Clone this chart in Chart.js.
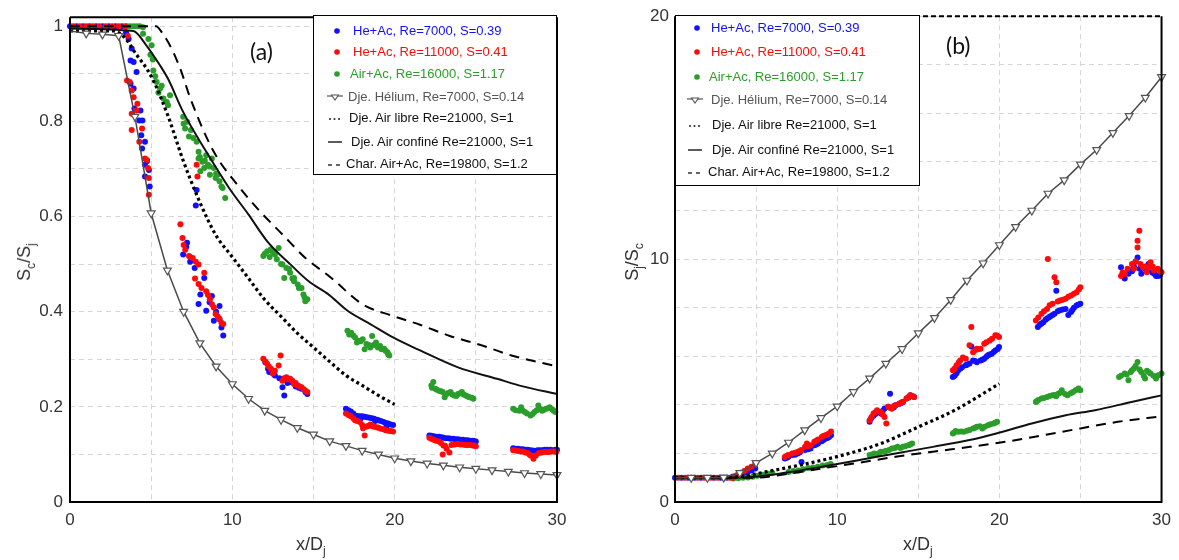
<!DOCTYPE html>
<html lang="fr">
<head>
<meta charset="UTF-8" />
<title>Sc/Sj et Sj/Sc en fonction de x/Dj</title>
<script src="https://cdn.jsdelivr.net/npm/chart.js"></script>
<style>
  body { margin: 0; background: #fff; font-family: 'Liberation Sans', Arial, sans-serif; }
  #wrap { position: relative; width: 1179px; height: 560px; overflow: hidden; }
  canvas { position: absolute; top: 0; }
  #chartA { left: 0; }
  #chartB { left: 600px; }
  .legend { position: absolute; border: 1.5px solid #000; background: #fff; box-sizing: border-box; }
  .legend .row { position: absolute; left: 0; height: 16px; width: 100%; }
  .legend svg { position: absolute; top: 0; }
  .legend span { position: absolute; top: 0; font-size: 13px; line-height: 16px; white-space: nowrap; }
  .tag { position: absolute; font-family: Lato, 'Open Sans', sans-serif; font-size: 23px; line-height: 23px; color: #111; }
  .axt { position: absolute; font-size: 18px; line-height: 20px; color: #333; white-space: nowrap; }
  .axt sub { font-size: 12px; vertical-align: -5px; line-height: 0; }
  .rot { transform: translate(-50%, -50%) rotate(-90deg); }
</style>
</head>
<body>
<div id="wrap">
  <canvas id="chartA" width="600" height="560"></canvas>
  <canvas id="chartB" width="579" height="560"></canvas>

  <div class="tag" style="left:250px; top:40px;">(a)</div>
  <div class="tag" style="left:946px; top:34px;">(b)</div>

  <div class="axt" style="left:296px; top:534px;">x/D<sub>j</sub></div>
  <div class="axt" style="left:903px; top:534px;">x/D<sub>j</sub></div>
  <div class="axt rot" style="left:24px; top:262px;">S<sub>c</sub>/S<sub>j</sub></div>
  <div class="axt rot" style="left:632px; top:262px;">S<sub>j</sub>/S<sub>c</sub></div>

  <div class="legend" id="legA" style="left:313px; top:15px; width:244px; height:160px;"></div>
  <div class="legend" id="legB" style="left:675px; top:15px; width:245px; height:171px;"></div>
</div>

<script>
  // ---- axes ----
  const xGrid = [0, 5, 10, 15, 20, 25, 30];
  const xLabels = [0, 10, 20, 30];
  const yGridA = [0, 0.1, 0.2, 0.3, 0.4, 0.5, 0.6, 0.7, 0.8, 0.9, 1];
  const yLabelsA = [0, 0.2, 0.4, 0.6, 0.8, 1];
  const yGridB = [0, 2, 4, 6, 8, 10, 12, 14, 16, 18, 20];
  const yLabelsB = [0, 10, 20];

  // ---- Dje. Hélium (courbe avec triangles) ----
  const xHel = [0, 1, 2, 3, 4, 5, 6, 7, 8, 9, 10, 11, 12, 13, 14, 15, 16, 17, 18, 19, 20,
    21, 22, 23, 24, 25, 26, 27, 28, 29, 30];
  const helA = [0.99, 0.985, 0.983, 0.98, 0.81, 0.607, 0.487, 0.40, 0.334, 0.285, 0.248,
    0.217, 0.192, 0.173, 0.156, 0.142, 0.128, 0.118, 0.108, 0.100, 0.092,
    0.086, 0.081, 0.077, 0.073, 0.070, 0.067, 0.064, 0.061, 0.059, 0.057];
  const helB = [1.0, 1.0, 1.0, 1.01, 1.2, 1.61, 2.0, 2.45, 2.96, 3.46, 3.94,
    4.53, 5.09, 5.7, 6.3, 6.95, 7.58, 8.32, 9.12, 9.83, 10.58,
    11.33, 12.0, 12.7, 13.25, 13.9, 14.5, 15.2, 15.9, 16.65, 17.5];

  // ---- Dje. Air libre (pointillés) ----
  const libreA = [[0, 0.99], [2.7, 0.99], [3.4, 0.975], [4, 0.945], [5, 0.895], [6, 0.815],
    [7, 0.715], [8, 0.63], [9, 0.56], [10, 0.515], [11, 0.47], [12, 0.425], [13, 0.39],
    [14, 0.355], [15, 0.325], [16, 0.295], [17, 0.266], [18, 0.245], [19, 0.224], [20, 0.205]];
  const libreB = [[0, 1.0], [3, 1.0], [4.5, 1.1], [5.6, 1.24], [7.7, 1.52], [10, 1.87],
    [12.7, 2.41], [15, 3.09], [17.25, 3.78], [20, 4.87]];

  // ---- Dje. Air confiné (trait plein) ----
  const confA = [[0, 0.995], [3.9, 0.99], [4.7, 0.96], [5.5, 0.92], [6.03, 0.89], [6.97, 0.82],
    [8.4, 0.736], [9.8, 0.66], [11, 0.604], [12.15, 0.548], [13.56, 0.5], [14.7, 0.464],
    [15.9, 0.437], [17.1, 0.402], [18.5, 0.374], [19.9, 0.346], [21.6, 0.318], [23.9, 0.283],
    [26.3, 0.259], [27.9, 0.243], [30, 0.227]];
  const confB = [[0, 1.0], [3.3, 1.0], [4.93, 1.04], [6.77, 1.2], [9.05, 1.45], [11.3, 1.72],
    [13.6, 2.0], [15.9, 2.27], [18.16, 2.55], [19.96, 2.85], [22, 3.23], [24.1, 3.57],
    [25.9, 3.78], [28.15, 4.12], [30, 4.39]];

  // ---- Char. Air+Ac (tirets) ----
  const charA = [[0, 1.0], [5.3, 1.0], [5.7, 0.985], [6.3, 0.95], [6.8, 0.91], [7.45, 0.845],
    [8.86, 0.736], [10.3, 0.667], [11.7, 0.611], [13.1, 0.562], [14.5, 0.513], [16.1, 0.471],
    [18, 0.416], [19.9, 0.391], [21.6, 0.372], [23.4, 0.349], [25.3, 0.33], [27.2, 0.308],
    [30, 0.285]];
  const charB = [[0, 1.0], [4.93, 1.0], [6.77, 1.14], [9.05, 1.38], [11.3, 1.61], [13.6, 1.86],
    [15.9, 2.07], [18.2, 2.27], [20.4, 2.48], [22.7, 2.75], [25, 3.03], [27.3, 3.3], [30, 3.53]];

  // ---- He+Ac, Re=7000 (bleu) ----
  const blueA = [[0, 1], [0.4, 1], [0.8, 1], [1.2, 1], [1.6, 1], [2, 1], [2.4, 1], [2.8, 1], [3.2, 1],
    [3.45, 0.987], [3.61, 0.973], [3.8, 0.953], [3.73, 0.928], [3.92, 0.925], [4.1, 0.904],
    [3.73, 0.879], [3.92, 0.869], [3.97, 0.827], [4.34, 0.823], [4.27, 0.802], [4.46, 0.802],
    [4.39, 0.771], [4.62, 0.757], [4.44, 0.743], [4.74, 0.716], [4.62, 0.709], [4.86, 0.698],
    [4.62, 0.684], [4.91, 0.663], [7.8, 0.656], [7.75, 0.623],
    [7.21, 0.545], [7.16, 0.536], [6.97, 0.52], [7.4, 0.505], [7.68, 0.492], [8.27, 0.471],
    [8.03, 0.436], [7.92, 0.416], [8.74, 0.433], [8.39, 0.402], [8.6, 0.42], [9.0, 0.4],
    [9.21, 0.412], [8.86, 0.381], [9.21, 0.384], [9.33, 0.367], [9.44, 0.35],
    [12.03, 0.294], [12.2, 0.28], [12.27, 0.273], [12.5, 0.27], [12.62, 0.266], [12.9, 0.26],
    [13.09, 0.241], [13.2, 0.224], [13.4, 0.25], [13.56, 0.252], [13.91, 0.243], [14.1, 0.24],
    [14.26, 0.238], [14.5, 0.231], [14.62, 0.227],
    [17.0, 0.196], [17.15, 0.193], [17.2, 0.188], [17.3, 0.19], [17.45, 0.186], [17.56, 0.182],
    [17.7, 0.181], [17.85, 0.18], [17.9, 0.175], [18.0, 0.18], [18.15, 0.179], [18.3, 0.178],
    [18.45, 0.177], [18.6, 0.176], [18.73, 0.175], [18.8, 0.17], [18.9, 0.173], [19.0, 0.172],
    [19.15, 0.17], [19.32, 0.168], [19.45, 0.166], [19.5, 0.16], [19.6, 0.165], [19.75, 0.163],
    [19.9, 0.162],
    [22.14, 0.14], [22.25, 0.139], [22.4, 0.138], [22.55, 0.137], [22.73, 0.137], [22.9, 0.136],
    [23.0, 0.135], [23.15, 0.134], [23.32, 0.134], [23.45, 0.133], [23.6, 0.133], [23.75, 0.132],
    [23.9, 0.132], [24.05, 0.131], [24.2, 0.131], [24.35, 0.13], [24.5, 0.13], [24.65, 0.129],
    [24.8, 0.129], [24.9, 0.128], [25.0, 0.127],
    [27.3, 0.113], [27.45, 0.112], [27.6, 0.112], [27.75, 0.111], [27.9, 0.111], [28.05, 0.11],
    [28.2, 0.11], [28.35, 0.109], [28.5, 0.108], [28.65, 0.107], [28.8, 0.109], [28.95, 0.109],
    [29.1, 0.109], [29.25, 0.11], [29.4, 0.11], [29.6, 0.11], [29.8, 0.109], [29.9, 0.11],
    [30.0, 0.11]];
  const blueB = [[0, 1], [0.4, 1], [0.8, 1], [1.2, 1], [1.6, 1], [2, 1], [2.4, 1], [2.8, 1], [3.2, 1],
    [3.58, 1.05], [4.04, 1.11], [4.3, 1.2], [4.49, 1.25], [4.72, 1.3], [4.95, 1.38],
    [6.77, 1.79], [6.9, 1.82], [6.99, 1.86], [7.22, 1.93], [7.4, 1.95], [7.57, 2.0], [7.7, 2.05],
    [7.8, 1.65], [8.02, 2.14], [8.2, 2.17], [8.36, 2.2], [8.59, 2.34], [8.7, 2.37], [8.82, 2.41],
    [9.05, 2.5], [9.15, 2.55], [9.27, 2.6], [9.4, 2.63], [9.5, 2.68], [9.62, 2.75],
    [12.0, 3.3], [12.1, 3.45], [12.24, 3.55], [12.35, 3.62], [12.46, 3.7], [12.69, 3.64],
    [12.8, 3.75], [12.92, 3.85], [13.15, 3.92], [13.26, 4.46], [13.37, 3.85], [13.5, 3.9],
    [13.6, 3.98], [13.83, 4.05], [13.95, 4.08], [14.05, 4.12], [14.28, 4.26], [14.4, 4.3],
    [14.51, 4.39], [14.74, 4.32],
    [17.13, 5.15], [17.25, 5.2], [17.36, 5.3], [17.47, 5.42], [17.6, 5.5], [17.7, 5.55],
    [17.93, 5.63], [18.0, 5.65], [18.16, 5.7], [18.27, 6.4], [18.38, 5.83], [18.5, 5.8],
    [18.61, 5.75], [18.84, 5.83], [18.95, 5.86], [19.07, 5.9], [19.2, 5.98], [19.3, 6.04],
    [19.4, 6.07], [19.53, 6.1], [19.65, 6.18], [19.75, 6.24], [19.9, 6.3], [19.98, 6.38],
    [22.37, 7.2], [22.5, 7.3], [22.6, 7.35], [22.71, 7.4], [22.85, 7.5], [22.94, 7.55],
    [23.06, 7.61], [23.15, 7.65], [23.28, 7.7], [23.4, 7.75], [23.51, 8.7], [23.6, 7.85],
    [23.74, 7.89], [23.9, 7.92], [24.08, 7.95], [24.25, 7.7], [24.42, 7.82], [24.5, 7.9],
    [24.6, 8.0], [24.76, 8.09], [24.85, 8.12], [24.99, 8.16],
    [27.5, 9.66], [27.6, 9.4], [27.73, 9.2], [27.96, 9.4], [28.0, 9.55], [28.18, 9.5],
    [28.3, 9.7], [28.4, 9.9], [28.52, 10.07], [28.65, 9.6], [28.75, 9.4], [28.98, 9.6],
    [29.1, 9.5], [29.2, 9.8], [29.43, 9.45], [29.55, 9.4], [29.66, 9.3], [29.8, 9.3],
    [29.9, 9.35]];

  // ---- He+Ac, Re=11000 (rouge) ----
  const redA = [[0.2, 1], [0.6, 1], [1, 1], [1.4, 1], [1.8, 1], [2.2, 1], [2.6, 1], [3, 1], [3.4, 1],
    [3.56, 0.98], [3.68, 0.883], [3.51, 0.886], [3.8, 0.865], [3.92, 0.851], [4.15, 0.837],
    [4.1, 0.823], [3.8, 0.816], [3.8, 0.782], [4.44, 0.785], [4.27, 0.757], [4.62, 0.722],
    [4.74, 0.719], [4.81, 0.702], [4.86, 0.681], [4.86, 0.646], [7.8, 0.709], [7.85, 0.684],
    [6.8, 0.584], [6.93, 0.555], [7.0, 0.54], [7.1, 0.53], [7.33, 0.517], [7.4, 0.515],
    [7.56, 0.513], [7.75, 0.505], [7.92, 0.499], [8.27, 0.482], [7.7, 0.47], [7.92, 0.458],
    [8.1, 0.45], [8.39, 0.443], [8.5, 0.435], [8.62, 0.426], [8.75, 0.415], [8.86, 0.409],
    [8.97, 0.395], [9.1, 0.39], [9.2, 0.385], [9.33, 0.377], [9.44, 0.374],
    [11.91, 0.301], [12.05, 0.295], [12.15, 0.29], [12.25, 0.285], [12.38, 0.28], [12.5, 0.27],
    [12.62, 0.276], [12.85, 0.287], [12.97, 0.308], [13.09, 0.255], [13.2, 0.26], [13.33, 0.262],
    [13.45, 0.258], [13.56, 0.259], [13.7, 0.255], [13.8, 0.248], [13.9, 0.25], [14.03, 0.245],
    [14.15, 0.243], [14.26, 0.241], [14.4, 0.237], [14.5, 0.234], [14.62, 0.231],
    [17.0, 0.186], [17.15, 0.183], [17.3, 0.18], [17.45, 0.176], [17.56, 0.172], [17.7, 0.17],
    [17.85, 0.168], [18.0, 0.162], [18.05, 0.155], [18.15, 0.14], [18.26, 0.158], [18.35, 0.16],
    [18.5, 0.163], [18.6, 0.16], [18.73, 0.158], [18.9, 0.157], [19.0, 0.156], [19.15, 0.154],
    [19.32, 0.153], [19.45, 0.151], [19.6, 0.15], [19.75, 0.149], [19.9, 0.148],
    [22.14, 0.135], [22.25, 0.133], [22.4, 0.131], [22.55, 0.129], [22.73, 0.127], [22.85, 0.124],
    [22.96, 0.1], [23.0, 0.119], [23.1, 0.118], [23.2, 0.112], [23.37, 0.104], [23.5, 0.12],
    [23.7, 0.121], [23.9, 0.122], [24.05, 0.121], [24.2, 0.121], [24.35, 0.12], [24.5, 0.12],
    [24.65, 0.12], [24.8, 0.119], [24.9, 0.119], [25.0, 0.117],
    [27.3, 0.109], [27.45, 0.108], [27.6, 0.107], [27.75, 0.106], [27.9, 0.106], [28.05, 0.104],
    [28.2, 0.103], [28.3, 0.1], [28.4, 0.097], [28.55, 0.091], [28.7, 0.098], [28.9, 0.103],
    [29.05, 0.104], [29.2, 0.105], [29.35, 0.105], [29.5, 0.105], [29.65, 0.106], [29.8, 0.106],
    [29.95, 0.105]];
  const redB = [[0.2, 1], [0.6, 1], [1, 1], [1.4, 1], [1.8, 1], [2.2, 1], [2.6, 1], [3, 1], [3.4, 1],
    [3.58, 1.0], [3.8, 1.1], [4.04, 1.2], [4.27, 1.28], [4.49, 1.38], [4.72, 1.45], [4.95, 1.59],
    [6.77, 1.85], [6.9, 1.9], [6.99, 1.93], [7.22, 2.0], [7.4, 2.03], [7.57, 2.07], [7.7, 2.1],
    [7.79, 2.14], [8.02, 2.27], [8.13, 2.41], [8.2, 2.3], [8.36, 2.34], [8.59, 2.48], [8.7, 2.52],
    [8.82, 2.57], [9.05, 2.68], [9.15, 2.72], [9.27, 2.75], [9.4, 2.78], [9.5, 2.82], [9.62, 2.9],
    [12.0, 3.37], [12.12, 3.5], [12.24, 3.64], [12.35, 3.7], [12.46, 3.78], [12.69, 3.71],
    [12.8, 3.6], [12.92, 3.5], [13.03, 3.23], [13.15, 3.92], [13.25, 3.88], [13.37, 3.85],
    [13.5, 3.95], [13.6, 3.98], [13.83, 4.05], [13.95, 4.1], [14.05, 4.12], [14.28, 4.26],
    [14.4, 4.32], [14.51, 4.39], [14.65, 4.36], [14.74, 4.32],
    [17.13, 5.42], [17.25, 5.5], [17.36, 5.63], [17.5, 5.75], [17.58, 5.83], [17.75, 5.95],
    [17.93, 5.9], [18.16, 6.45], [18.27, 7.2], [18.38, 6.17], [18.5, 6.25], [18.61, 6.31],
    [18.75, 6.3], [18.84, 6.31], [19.07, 6.52], [19.2, 6.58], [19.41, 6.65], [19.55, 6.72],
    [19.75, 6.86], [19.85, 6.85], [19.98, 6.79],
    [22.25, 7.47], [22.4, 7.6], [22.6, 7.75], [22.75, 7.85], [22.94, 7.95], [22.99, 10.0],
    [23.1, 8.1], [23.28, 8.16], [23.4, 9.25], [23.51, 9.05], [23.6, 8.25], [23.74, 8.3],
    [23.9, 8.33], [24.08, 8.37], [24.25, 8.45], [24.42, 8.5], [24.6, 8.57], [24.76, 8.64],
    [24.9, 8.75], [24.99, 8.84],
    [27.5, 9.3], [27.6, 9.45], [27.73, 9.39], [27.9, 9.6], [28.18, 9.8], [28.3, 9.6],
    [28.4, 9.9], [28.52, 10.48], [28.52, 10.76], [28.63, 11.17], [28.7, 9.8], [28.86, 9.66],
    [29.0, 9.7], [29.09, 9.46], [29.2, 9.65], [29.32, 9.87], [29.45, 9.7], [29.54, 9.53],
    [29.77, 9.6], [29.9, 9.5], [30.0, 9.46]];

  // ---- Air+Ac, Re=16000 (vert) ----
  const greenA = [[3.5, 1], [3.7, 1], [3.9, 1], [4.1, 1], [4.3, 1], [4.5, 0.998],
    [4.5, 0.984], [4.83, 0.973], [5.03, 0.96], [4.95, 0.94], [5.1, 0.93], [5.13, 0.907],
    [5.25, 0.895], [5.34, 0.883], [5.65, 0.875], [5.55, 0.869], [5.45, 0.86], [5.75, 0.848],
    [5.96, 0.841], [6.16, 0.855], [6.04, 0.834],
    [6.97, 0.81], [7.0, 0.795], [7.21, 0.799], [7.45, 0.782], [7.09, 0.785], [7.33, 0.768],
    [7.6, 0.765], [7.8, 0.757], [7.92, 0.736], [8.0, 0.725], [7.92, 0.722], [8.15, 0.715],
    [8.3, 0.718], [8.39, 0.729], [8.5, 0.709], [8.6, 0.705], [8.74, 0.722], [8.86, 0.702],
    [8.62, 0.688], [8.97, 0.681], [9.0, 0.69], [9.09, 0.688], [9.21, 0.674], [9.33, 0.663],
    [9.4, 0.66], [9.56, 0.639], [8.27, 0.702], [8.03, 0.695],
    [11.91, 0.517], [12.0, 0.522], [12.15, 0.527], [12.3, 0.515], [12.38, 0.531], [12.5, 0.525],
    [12.62, 0.52], [12.85, 0.534], [12.74, 0.51], [13.0, 0.5], [13.09, 0.499], [13.33, 0.492],
    [13.5, 0.49], [13.56, 0.482], [13.7, 0.47], [13.8, 0.471], [13.2, 0.471], [13.8, 0.464],
    [14.03, 0.457], [14.1, 0.45], [14.26, 0.45], [14.38, 0.436], [14.45, 0.43], [14.62, 0.426],
    [14.5, 0.422],
    [17.09, 0.36], [17.2, 0.352], [17.32, 0.356], [17.45, 0.35], [17.56, 0.346], [17.68, 0.335],
    [17.79, 0.339], [17.9, 0.338], [18.03, 0.342], [18.15, 0.321], [18.26, 0.332], [18.4, 0.33],
    [18.5, 0.325], [18.61, 0.349], [18.7, 0.33], [18.85, 0.335], [18.97, 0.325], [19.1, 0.328],
    [19.2, 0.321], [19.35, 0.322], [19.44, 0.318], [19.56, 0.315], [19.6, 0.31], [19.67, 0.308],
    [22.26, 0.245], [22.3, 0.24], [22.38, 0.252], [22.5, 0.238], [22.6, 0.236], [22.73, 0.234],
    [22.85, 0.233], [22.96, 0.231], [23.08, 0.22], [23.2, 0.227], [23.3, 0.229], [23.44, 0.231],
    [23.55, 0.226], [23.67, 0.224], [23.8, 0.223], [23.9, 0.227], [24.0, 0.228], [24.14, 0.231],
    [24.25, 0.226], [24.38, 0.224], [24.5, 0.222], [24.61, 0.22], [24.75, 0.219], [24.85, 0.217],
    [27.3, 0.196], [27.45, 0.193], [27.67, 0.192], [27.79, 0.199], [27.9, 0.192], [28.02, 0.189],
    [28.15, 0.186], [28.37, 0.182], [28.5, 0.185], [28.61, 0.189], [28.75, 0.193], [28.85, 0.203],
    [29.0, 0.195], [29.08, 0.192], [29.2, 0.194], [29.32, 0.196], [29.45, 0.197], [29.55, 0.199],
    [29.7, 0.195], [29.8, 0.192], [29.9, 0.189]];
  const greenB = [[3.6, 0.97], [3.9, 0.98], [4.2, 1.0], [4.5, 1.01], [4.8, 1.04], [5.1, 1.08],
    [5.4, 1.12], [5.7, 1.16], [6.0, 1.2],
    [7.0, 1.24], [7.3, 1.28], [7.6, 1.3], [7.9, 1.35], [8.2, 1.4], [8.5, 1.42], [8.8, 1.45],
    [9.1, 1.5], [9.4, 1.52], [9.6, 1.56],
    [12.0, 1.93], [12.15, 1.96], [12.28, 2.0], [12.5, 1.98], [12.6, 2.02], [12.69, 2.07],
    [12.9, 2.08], [13.03, 2.11], [13.2, 2.14], [13.37, 2.2], [13.55, 2.22], [13.72, 2.27],
    [13.9, 2.22], [14.05, 2.27], [14.2, 2.3], [14.4, 2.34], [14.5, 2.37], [14.62, 2.41],
    [17.13, 2.82], [17.2, 2.85], [17.3, 2.92], [17.47, 2.89], [17.65, 2.9], [17.81, 2.89],
    [18.0, 2.93], [18.16, 2.96], [18.38, 3.03], [18.5, 3.06], [18.61, 3.1], [18.8, 3.12],
    [18.95, 3.03], [19.1, 3.1], [19.3, 3.16], [19.45, 3.2], [19.64, 3.23], [19.75, 3.26],
    [19.86, 3.3],
    [22.25, 4.12], [22.3, 4.15], [22.4, 4.2], [22.6, 4.26], [22.75, 4.28], [22.94, 4.32],
    [23.1, 4.36], [23.28, 4.39], [23.4, 4.4], [23.5, 4.35], [23.63, 4.46], [23.75, 4.5],
    [23.85, 4.6], [24.05, 4.45], [24.2, 4.39], [24.4, 4.48], [24.54, 4.53], [24.7, 4.6],
    [24.88, 4.67], [24.99, 4.6],
    [27.38, 5.15], [27.5, 5.2], [27.73, 5.29], [27.85, 5.25], [27.96, 5.01], [28.1, 5.35],
    [28.18, 5.42], [28.3, 5.5], [28.4, 5.6], [28.52, 5.76], [28.65, 5.45], [28.75, 5.35],
    [28.9, 5.2], [28.98, 5.08], [29.1, 5.4], [29.2, 5.35], [29.32, 5.29], [29.5, 5.2],
    [29.66, 5.08], [29.8, 5.22], [30.0, 5.29]];

  const BLUE = '#1010ff', RED = '#ff0a0a', GREEN = '#2a9d2a', GREY = '#4a4a4a';

  Chart.defaults.font.family = "'Liberation Sans', Arial, sans-serif";
  Chart.defaults.font.size = 17;
  Chart.defaults.color = '#333';

  const pts = arr => arr.map(([x, y]) => ({ x, y }));

  // cadre noir autour de la zone de tracé
  const framePlugin = {
    id: 'frame',
    afterDatasetsDraw(chart, args, opts) {
      const { ctx, chartArea: a } = chart;
      ctx.save();
      ctx.strokeStyle = '#000';
      ctx.lineWidth = 2;
      ctx.beginPath();
      ctx.moveTo(a.left, a.top);
      ctx.lineTo(a.left, a.bottom);
      ctx.lineTo(a.right, a.bottom);
      ctx.lineTo(a.right, a.top);
      ctx.stroke();
      if (opts.topDash) ctx.setLineDash([5, 3]);
      ctx.beginPath();
      ctx.moveTo(a.left, a.top);
      ctx.lineTo(a.right, a.top);
      ctx.stroke();
      ctx.restore();
    }
  };

  function scatterSet(label, data, color) {
    return {
      label, data: pts(data), showLine: false,
      pointRadius: 3, pointBorderWidth: 0,
      pointBackgroundColor: color, pointBorderColor: color, clip: false
    };
  }

  function lineSet(label, data, opts) {
    return Object.assign({
      label, data: pts(data), showLine: true, pointRadius: 0,
      borderColor: '#000', borderWidth: 2, cubicInterpolationMode: 'monotone',
      fill: false, clip: false
    }, opts);
  }

  function heliumSet(ys) {
    return {
      label: 'Dje. Hélium, Re=7000, S=0.14',
      data: xHel.map((x, i) => ({ x, y: ys[i] })),
      showLine: true, tension: 0, borderColor: GREY, borderWidth: 1.5,
      pointStyle: 'triangle', rotation: 180,
      pointRadius: xHel.map(x => (x === 0 ? 0 : 4.5)),
      pointBackgroundColor: '#fff', pointBorderColor: '#555', pointBorderWidth: 1.2,
      clip: false
    };
  }

  function makeScales(yMax, yGrid, yLabels, yWidth, yPad) {
    return {
      x: {
        type: 'linear', min: 0, max: 30,
        afterBuildTicks: s => { s.ticks = xGrid.map(v => ({ value: v })); },
        afterFit: s => { s.height = 58; },
        ticks: { autoSkip: false, maxRotation: 0, padding: 8,
          callback: v => (xLabels.includes(v) ? String(v) : '') },
        grid: { color: '#d6d6d6', lineWidth: 1, drawTicks: false },
        border: { display: false, dash: [5, 4] }
      },
      y: {
        type: 'linear', min: 0, max: yMax,
        afterBuildTicks: s => { s.ticks = yGrid.map(v => ({ value: v })); },
        afterFit: s => { s.width = yWidth; },
        ticks: { autoSkip: false, padding: yPad,
          callback: v => (yLabels.includes(v) ? String(v) : '') },
        grid: { color: '#d6d6d6', lineWidth: 1, drawTicks: false },
        border: { display: false, dash: [5, 4] }
      }
    };
  }

  function makeChart(id, sets, scales, padding, topDash) {
    return new Chart(document.getElementById(id), {
      type: 'scatter',
      data: { datasets: sets },
      options: {
        responsive: false, animation: false, events: [],
        layout: { padding },
        scales,
        plugins: { legend: { display: false }, tooltip: { enabled: false }, frame: { topDash } }
      },
      plugins: [framePlugin]
    });
  }

  makeChart('chartA', [
    heliumSet(helA),
    lineSet('Dje. Air libre Re=21000, S=1', libreA, { borderWidth: 3.2, borderDash: [3, 3] }),
    lineSet('Dje. Air confiné Re=21000, S=1', confA, { borderColor: '#111' }),
    lineSet('Char. Air+Ac, Re=19800, S=1.2', charA, { borderDash: [10, 7] }),
    scatterSet('He+Ac, Re=11000, S=0.41', redA, RED),
    scatterSet('He+Ac, Re=7000, S=0.39', blueA, BLUE),
    scatterSet('Air+Ac, Re=16000, S=1.17', greenA, GREEN)
  ], makeScales(1.019, yGridA, yLabelsA, 70, 7), { left: 0, right: 43, top: 15, bottom: 0 }, false);

  makeChart('chartB', [
    heliumSet(helB),
    lineSet('Dje. Air libre Re=21000, S=1', libreB, { borderWidth: 3.2, borderDash: [3, 3] }),
    lineSet('Dje. Air confiné Re=21000, S=1', confB, { borderColor: '#111' }),
    lineSet('Char. Air+Ac, Re=19800, S=1.2', charB, { borderDash: [10, 7] }),
    scatterSet('He+Ac, Re=11000, S=0.41', redB, RED),
    scatterSet('He+Ac, Re=7000, S=0.39', blueB, BLUE),
    scatterSet('Air+Ac, Re=16000, S=1.17', greenB, GREEN)
  ], makeScales(20, yGridB, yLabelsB, 75, 6), { left: 0, right: 17, top: 15, bottom: 0 }, true);

  // ---- légendes (texte HTML) ----
  const legendItems = [
    { text: 'He+Ac, Re=7000, S=0.39', color: BLUE, sym: 'dot' },
    { text: 'He+Ac, Re=11000, S=0.41', color: RED, sym: 'dot' },
    { text: 'Air+Ac, Re=16000, S=1.17', color: GREEN, sym: 'dot' },
    { text: 'Dje. Hélium, Re=7000, S=0.14', color: '#555', sym: 'tri' },
    { text: 'Dje. Air libre Re=21000, S=1', color: '#111', sym: 'dots' },
    { text: 'Dje. Air confiné Re=21000, S=1', color: '#111', sym: 'solid' },
    { text: 'Char. Air+Ac, Re=19800, S=1.2', color: '#111', sym: 'dash' }
  ];

  function symbolSvg(sym, color) {
    let body = '';
    if (sym === 'dot') body = `<circle cx="10" cy="8" r="2.8" fill="${color}"/>`;
    if (sym === 'tri') body = `<line x1="0" y1="7" x2="16" y2="7" stroke="#555" stroke-width="1.2"/>` +
      `<polygon points="4.5,6 11.5,6 8,11" fill="#fff" stroke="#555" stroke-width="1.1"/>`;
    if (sym === 'dots') body = `<circle cx="3" cy="9" r="1" fill="#222"/><circle cx="7.5" cy="9" r="1" fill="#222"/>` +
      `<circle cx="12" cy="9" r="1" fill="#222"/>`;
    if (sym === 'solid') body = `<line x1="1" y1="8" x2="15" y2="8" stroke="#333" stroke-width="1.6"/>`;
    if (sym === 'dash') body = `<line x1="1" y1="9" x2="5" y2="9" stroke="#222" stroke-width="1.4"/>` +
      `<line x1="9" y1="9" x2="13" y2="9" stroke="#222" stroke-width="1.4"/>`;
    return `<svg width="18" height="16" viewBox="0 0 18 16">${body}</svg>`;
  }

  function buildLegend(id, rowTops, textLefts, symLeft) {
    const box = document.getElementById(id);
    legendItems.forEach((it, i) => {
      const row = document.createElement('div');
      row.className = 'row';
      row.style.top = rowTops[i] + 'px';
      row.innerHTML = symbolSvg(it.sym, it.color).replace('<svg', `<svg style="left:${symLeft}px"`) +
        `<span style="left:${textLefts[i]}px; color:${it.color}">${it.text}</span>`;
      box.appendChild(row);
    });
  }

  buildLegend('legA', [7, 28, 50, 73, 94, 118, 140], [39, 39, 36, 34, 35, 37, 32], 13);
  buildLegend('legB', [4, 28, 53, 76, 101, 126, 148], [35, 35, 33, 35, 36, 36, 32], 11);
</script>
</body>
</html>
